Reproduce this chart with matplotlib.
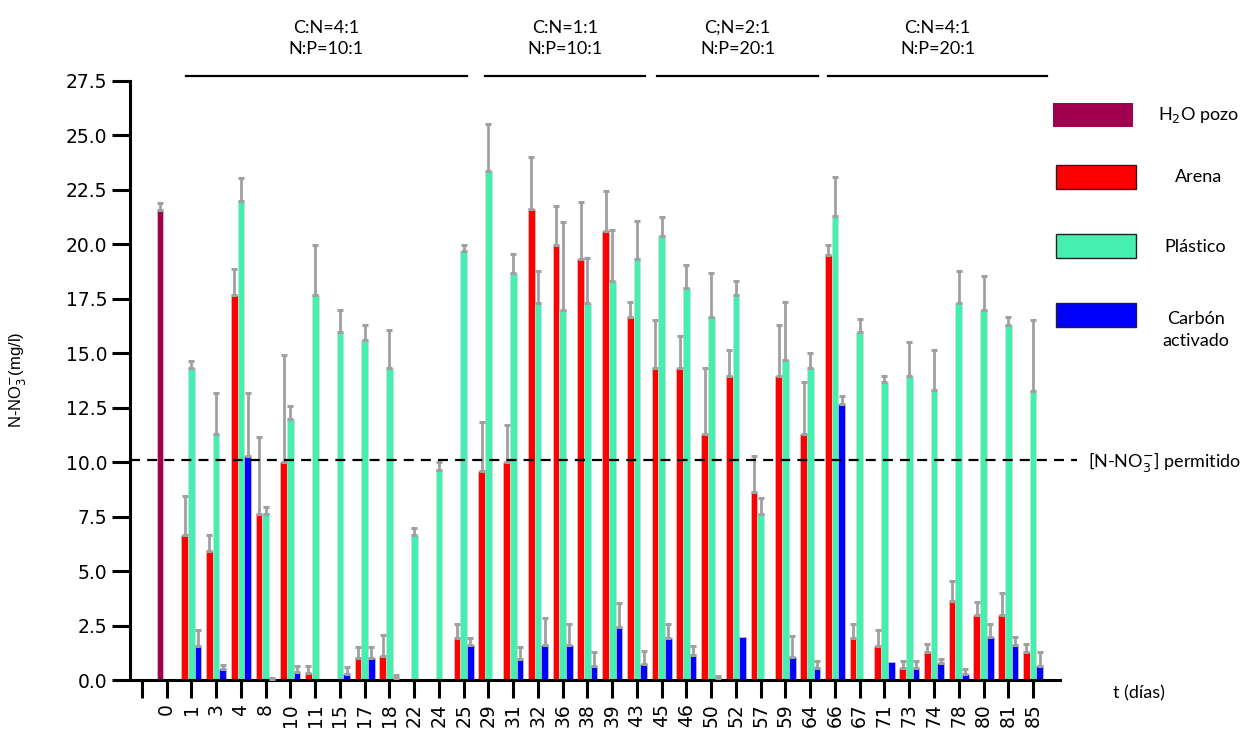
import numpy as np
import matplotlib
matplotlib.use("Agg")
import matplotlib.pyplot as plt
from matplotlib.patches import Rectangle

# ---------------- data ----------------
days = ['0', '1', '3', '4', '8', '10', '11', '15', '17', '18', '22', '24', '25',
        '29', '31', '32', '36', '38', '39', '43', '45', '46', '50', '52', '57',
        '59', '64', '66', '67', '71', '73', '74', '78', '80', '81', '85']

h2o_pozo = [21.55] + [0.0] * 35
h2o_err = [0.33] + [0.0] * 35

arena = [0.0, 6.63, 5.94, 17.65, 7.62, 10.0, 0.31, 0.0, 1.01, 1.10, 0.0, 0.0, 1.91,
         9.61, 9.98, 21.63, 19.94, 19.31, 20.62, 16.64, 14.31, 14.31, 11.28, 13.97, 8.62,
         13.97, 11.28, 19.48, 1.91, 1.56, 0.57, 1.30, 3.64, 2.97, 2.97, 1.30]
arena_err = [0.0, 1.79, 0.69, 1.21, 3.55, 4.92, 0.33, 0.0, 0.52, 0.97, 0.0, 0.0, 0.64,
             2.22, 1.73, 2.37, 1.79, 2.62, 1.80, 0.69, 2.19, 1.45, 3.03, 1.18, 1.66,
             2.33, 2.37, 0.46, 0.66, 0.74, 0.30, 0.35, 0.91, 0.63, 1.04, 0.35]

plastico = [0.0, 14.31, 11.28, 21.96, 7.62, 11.97, 17.65, 15.95, 15.61, 14.31, 6.64, 9.64, 19.67,
            23.33, 18.67, 17.29, 16.96, 17.29, 18.32, 19.31, 20.36, 17.98, 16.64, 17.65, 7.62,
            14.66, 14.31, 21.30, 15.96, 13.65, 13.97, 13.31, 17.29, 16.96, 16.27, 13.28]
plastico_err = [0.0, 0.34, 1.88, 1.06, 0.34, 0.61, 2.32, 1.04, 0.69, 1.76, 0.32, 0.38, 0.30,
                2.18, 0.87, 1.49, 4.05, 2.07, 2.34, 1.76, 0.87, 1.04, 2.03, 0.67, 0.72,
                2.68, 0.69, 1.78, 0.60, 0.32, 1.56, 1.84, 1.46, 1.56, 0.38, 3.22]

carbon = [0.0, 1.56, 0.49, 10.28, 0.05, 0.37, 0.0, 0.28, 1.01, 0.11, 0.0, 0.0, 1.61,
          0.0, 0.95, 1.61, 1.61, 0.66, 2.42, 0.72, 1.91, 1.15, 0.11, 1.96, 0.0,
          1.04, 0.54, 12.66, 0.0, 0.84, 0.57, 0.80, 0.28, 1.96, 1.61, 0.66]
carbon_err = [0.0, 0.74, 0.20, 2.88, 0.05, 0.29, 0.0, 0.30, 0.52, 0.12, 0.0, 0.0, 0.33,
              0.0, 0.58, 1.22, 0.94, 0.64, 1.10, 0.63, 0.64, 0.43, 0.07, 0.0, 0.0,
              0.98, 0.33, 0.35, 0.0, 0.0, 0.30, 0.16, 0.21, 0.61, 0.35, 0.64]

limit = 10.1

groups = [("C:N=4:1\nN:P=10:1", 0.78, 12.13),
          ("C:N=1:1\nN:P=10:1", 12.86, 19.33),
          ("C;N=2:1\nN:P=20:1", 19.81, 26.31),
          ("C:N=4:1\nN:P=20:1", 26.72, 35.57)]

# ---------------- style ----------------
c_h2o = '#A0004E'
c_arena = '#FF0000'
c_plast = '#45EFB0'
c_carb = '#0000FF'
c_err = '#A0A0A0'
txt_font = ['Lato', 'DejaVu Sans']

W, H = 1259, 733
fig = plt.figure(figsize=(W / 100, H / 100), dpi=100)
ax = fig.add_axes([130 / W, 1 - 680 / H, (1060 - 130) / W, (680 - 80.6) / H])

x = np.arange(len(days))
bw = 0.27

def draw(offset, vals, errs, color):
    xs = x + offset
    ax.bar(xs, vals, width=bw, color=color, edgecolor='#D8D8D8', linewidth=0.4, zorder=2)
    vals = np.asarray(vals); errs = np.asarray(errs)
    m = errs > 0
    ax.errorbar(xs[m], vals[m], yerr=[np.zeros(m.sum()), errs[m]], fmt='none',
                ecolor=c_err, elinewidth=2.0, capsize=2.5, capthick=2.2, zorder=3)

# H2O pozo only first group, first slot
hx = np.array([x[0] - bw])
ax.bar(hx, [h2o_pozo[0]], width=bw, color=c_h2o, edgecolor='#D8D8D8', linewidth=0.4, zorder=2)
ax.errorbar(hx, [h2o_pozo[0]], yerr=[[0], [h2o_err[0]]], fmt='none', ecolor=c_err,
            elinewidth=2.0, capsize=2.5, capthick=2.2, zorder=3)

draw(-bw, [v if i > 0 else 0 for i, v in enumerate(arena)], arena_err, c_arena)
draw(0.0, plastico, plastico_err, c_plast)
draw(bw, carbon, carbon_err, c_carb)

ax.set_xlim(-1.48, 36.09)
ax.set_ylim(0, 27.5)
ax.set_yticks(np.arange(0, 27.51, 2.5))
ax.set_yticklabels([f"{v:.1f}" for v in np.arange(0, 27.51, 2.5)], fontsize=13.5)
ax.set_xticks(np.arange(-1, len(days)))
ax.set_xticklabels([''] + days, rotation=90, fontsize=13.5)

for s in ['top', 'right']:
    ax.spines[s].set_visible(False)
for s in ['left', 'bottom']:
    ax.spines[s].set_linewidth(2.2)
ax.tick_params(axis='both', length=13, width=2.2, direction='out')
ax.tick_params(axis='x', pad=4)

# permitted limit
ax.plot([-1.48, 36.78], [limit, limit], ls=(0, (4.5, 3.2)), color='black', lw=1.6,
        clip_on=False, zorder=4)

# group lines and texts
for label, x0, x1 in groups:
    ax.plot([x0, x1], [27.73, 27.73], color='black', lw=1.6, clip_on=False)
    ax.text((x0 + x1) / 2, 28.6, label, ha='center', va='bottom', fontsize=13,
            family=txt_font, linespacing=1.35, clip_on=False)

# axis labels
fig.text(18 / W, 1 - 380 / H, r'N-NO$_3^{-}$(mg/l)', rotation=90, ha='center', va='center',
         fontsize=12, family=['Liberation Sans', 'DejaVu Sans'])
fig.text(1113 / W, 1 - 693 / H, 't (días)', ha='left', va='center', fontsize=13, family=txt_font)

# legend (custom)
def leg_rect(x0, y0, x1, y1, color, edge):
    fig.patches.append(Rectangle((x0 / W, 1 - y1 / H), (x1 - x0) / W, (y1 - y0) / H,
                                 transform=fig.transFigure, facecolor=color,
                                 edgecolor=edge, linewidth=1.0 if edge != 'none' else 0))

leg_rect(1053, 103, 1133, 127, c_h2o, 'none')
leg_rect(1056, 165, 1136, 189, c_arena, '#222222')
leg_rect(1056, 234, 1136, 258, c_plast, '#222222')
leg_rect(1056, 303, 1136, 327, c_carb, '#222222')

fig.text(1158 / W, 1 - 115 / H, r'H$_2$O pozo', ha='left', va='center', fontsize=13, family=txt_font)
fig.text(1175 / W, 1 - 177 / H, 'Arena', ha='left', va='center', fontsize=13, family=txt_font)
fig.text(1164 / W, 1 - 247 / H, 'Plástico', ha='left', va='center', fontsize=13, family=txt_font)
fig.text(1196 / W, 1 - 330 / H, 'Carbón\nactivado', ha='center', va='center', fontsize=13,
         family=txt_font, linespacing=1.5)
fig.text(1088 / W, 1 - 462 / H, r'[N-NO$_3^{-}$] permitido', ha='left', va='center',
         fontsize=13, family=txt_font)

fig.savefig('out.png', dpi=100)
